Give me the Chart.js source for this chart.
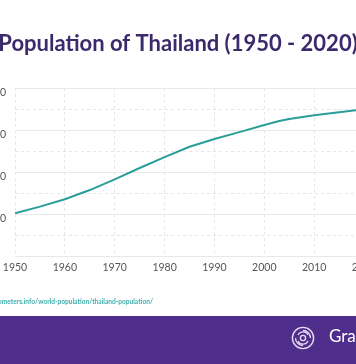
<!DOCTYPE html>
<html>
<head>
<meta charset="utf-8">
<script src="https://cdn.jsdelivr.net/npm/chart.js@4.4.1/dist/chart.umd.min.js"></script>
<style>
  html, body { margin: 0; padding: 0; background: #ffffff; }
  body { width: 356px; height: 364px; overflow: hidden; position: relative; font-family: Lato, "Open Sans", sans-serif; }
  #wrap { position: absolute; left: -62px; top: 0; width: 480px; height: 316px; }
  #c { display: block; width: 480px; height: 316px; }
  #source { position: absolute; right: 203px; top: 297px; white-space: nowrap; font-size: 6.6px; font-weight: 700; color: #3fb0ae; }
  #footer { position: absolute; left: 0; top: 316px; width: 356px; height: 48px; background: #4f2d8b; }
  #logo { position: absolute; left: 291px; top: 326px; }
  #brand { position: absolute; left: 329px; top: 325px; color: #ffffff; font-size: 17px; font-weight: 400; white-space: nowrap; }
</style>
</head>
<body>
<div id="wrap"><canvas id="c" width="480" height="316"></canvas></div>
<div id="source">https://www.worldometers.info/world-population/thailand-population/</div>
<div id="footer"></div>
<svg id="logo" width="24" height="24" viewBox="0 0 24 24">
  <circle cx="12" cy="12" r="10.6" fill="none" stroke="#e6dcf5" stroke-width="1.4"/>
  <path d="M12 4.5 A7.5 7.5 0 0 1 19.5 12" fill="none" stroke="#e6dcf5" stroke-width="1.3"/>
  <path d="M12 19.5 A7.5 7.5 0 0 1 4.5 12" fill="none" stroke="#e6dcf5" stroke-width="1.3"/>
  <path d="M7 9 A5.5 5.5 0 0 1 17 9" fill="none" stroke="#e6dcf5" stroke-width="1.3"/>
  <path d="M17 15 A5.5 5.5 0 0 1 7 15" fill="none" stroke="#e6dcf5" stroke-width="1.3"/>
  <circle cx="12" cy="12" r="2.6" fill="none" stroke="#e6dcf5" stroke-width="1.3"/>
</svg>
<div id="brand">Gra</div>
<script>
const titleText = "Population of Thailand (1950 - 2020)";
const years = [1950, 1955, 1960, 1965, 1970, 1975, 1980, 1985, 1990, 1995, 2000, 2003, 2005, 2010, 2015, 2020];
const population = [20.3e6, 23.5e6, 27.0e6, 31.4e6, 36.5e6, 41.9e6, 47.1e6, 52.0e6, 55.7e6, 59.0e6, 62.4e6, 64.3e6, 65.2e6, 67.0e6, 68.4e6, 69.9e6];
const yTickValues = [0, 20000000, 40000000, 60000000, 80000000];

const points = years.map((yr, i) => ({ x: yr, y: population[i] }));

new Chart(document.getElementById('c'), {
  type: 'line',
  data: {
    datasets: [{
      label: 'Population',
      data: points,
      borderColor: '#2a9e9a',
      borderWidth: 2,
      pointRadius: 0,
      tension: 0,
      fill: false
    }]
  },
  options: {
    responsive: false,
    animation: false,
    devicePixelRatio: 1,
    layout: { padding: { left: 54, right: 54, top: 0, bottom: 0 } },
    plugins: {
      legend: { display: false },
      tooltip: { enabled: false },
      title: {
        display: true,
        text: titleText,
        color: '#3b2a6b',
        font: { family: 'Lato', size: 22, weight: 'bold' },
        padding: { top: 31, bottom: 30.6 }
      }
    },
    scales: {
      x: {
        type: 'linear',
        min: 1950,
        max: 2020,
        afterFit: (s) => { s.height = 60; },
        ticks: {
          stepSize: 10,
          color: '#555555',
          font: { family: 'Lato', size: 10.5 },
          padding: 5,
          maxRotation: 0,
          autoSkip: false,
          callback: (v) => String(v)
        },
        grid: { color: '#e6e6e6', drawTicks: false, lineWidth: 1 },
        border: { display: false, dash: [3, 3] }
      },
      y: {
        position: 'left',
        min: 0,
        max: 80000000,
        afterFit: (s) => { s.width = 23; },
        afterBuildTicks: (s) => { s.ticks = yTickValues.map(v => ({ value: v })); },
        ticks: {
          color: '#555555',
          font: { family: 'Lato', size: 10.5 },
          padding: 9,
          labelOffset: 5,
          callback: (v) => (v === 0 ? '' : v.toLocaleString('en-US'))
        },
        grid: { color: '#e8e8e8', drawTicks: false, lineWidth: 1 },
        border: { display: false }
      },
      y2: {
        position: 'left',
        min: 0,
        max: 80000000,
        afterFit: (s) => { s.width = 0; },
        ticks: { display: false, stepSize: 10000000 },
        grid: {
          drawTicks: false,
          lineWidth: 1,
          color: (ctx) => (ctx.tick && ctx.tick.value % 20000000 === 0) ? 'rgba(0,0,0,0)' : '#e6e6e6'
        },
        border: { display: false, dash: [3, 3] }
      }
    }
  }
});
</script>
</body>
</html>
